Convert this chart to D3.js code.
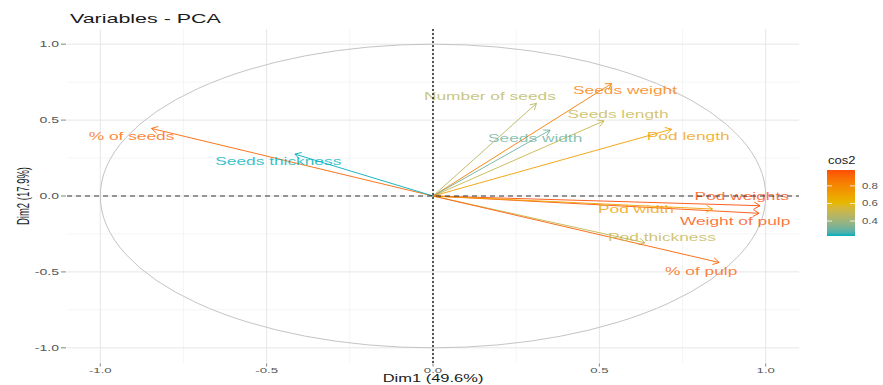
<!DOCTYPE html>
<html>
<head>
<meta charset="utf-8">
<script src="https://cdn.jsdelivr.net/npm/d3@7"></script>
<style>
  html, body { margin: 0; padding: 0; background: #fff; }
  svg { display: block; font-family: "Liberation Sans", Arial, sans-serif; }
</style>
</head>
<body>
<svg id="chart" width="883" height="385"></svg>
<script>
// ---- data ----
const variables = ["% of seeds", "Seeds thickness", "Number of seeds", "Seeds weight", "Seeds  length",
  "Seeds width", "Pod length", "Pod weights", "Weight of pulp", "Pod width", "Pod thickness", "% of pulp"];
const dim1 = [-0.846, -0.415, 0.311, 0.537, 0.514, 0.352, 0.717, 0.983, 0.980, 0.840, 0.637, 0.860];
const dim2 = [0.445, 0.276, 0.610, 0.741, 0.495, 0.434, 0.440, -0.064, -0.114, -0.086, -0.308, -0.438];
const cos2 = [0.91, 0.23, 0.47, 0.84, 0.51, 0.31, 0.71, 0.98, 0.97, 0.71, 0.50, 0.93];
const labelDim1 = [-0.906, -0.465, 0.171, 0.577, 0.556, 0.307, 0.767, 0.928, 0.908, 0.610, 0.688, 0.806];
const labelDim2 = [0.390, 0.226, 0.658, 0.693, 0.539, 0.382, 0.395, -0.005, -0.169, -0.086, -0.273, -0.493];
const axisTicks = [-1, -0.5, 0, 0.5, 1];
const axisTickLabels = ["-1.0", "-0.5", "0.0", "0.5", "1.0"];
const minorTicks = [-0.75, -0.25, 0.25, 0.75];
const legendTicks = [0.4, 0.6, 0.8];
const legendTickLabels = ["0.4", "0.6", "0.8"];
const gradientCols = ["#00AFBB", "#E7B800", "#FC4E07"];
const titleText = "Variables - PCA";
const xTitle = "Dim1 (49.6%)";
const yTitle = "Dim2 (17.9%)";

// ---- layout ----
const SX = 1.65; // horizontal stretch of text as in the reference
const svg = d3.select("#chart");
const x = d3.scaleLinear().domain([-1.1, 1.1]).range([67, 799]);
const y = d3.scaleLinear().domain([-1.1, 1.1]).range([363, 29]);

const cmin = d3.min(cos2), cmax = d3.max(cos2);
const color = d3.scaleLinear().domain([cmin, (cmin + cmax) / 2, cmax]).range(gradientCols).interpolate(d3.interpolateLab);

svg.append("rect").attr("width", 883).attr("height", 385).attr("fill", "#fff");

// grid
const grid = svg.append("g");
minorTicks.forEach(t => {
  grid.append("line").attr("x1", x(t)).attr("x2", x(t)).attr("y1", y(1.1)).attr("y2", y(-1.1))
    .attr("stroke", "#F3F3F3").attr("stroke-width", 0.8);
  grid.append("line").attr("y1", y(t)).attr("y2", y(t)).attr("x1", x(-1.1)).attr("x2", x(1.1))
    .attr("stroke", "#F3F3F3").attr("stroke-width", 0.8);
});
axisTicks.forEach(t => {
  grid.append("line").attr("x1", x(t)).attr("x2", x(t)).attr("y1", y(1.1)).attr("y2", y(-1.1))
    .attr("stroke", "#E6E6E6").attr("stroke-width", 1);
  grid.append("line").attr("y1", y(t)).attr("y2", y(t)).attr("x1", x(-1.1)).attr("x2", x(1.1))
    .attr("stroke", "#E6E6E6").attr("stroke-width", 1);
});

// correlation circle
svg.append("ellipse").attr("cx", x(0)).attr("cy", y(0))
  .attr("rx", x(1) - x(0)).attr("ry", y(0) - y(1))
  .attr("fill", "none").attr("stroke", "#C4C4C4").attr("stroke-width", 1);

// axis ticks and labels
const axG = svg.append("g");
axisTicks.forEach((t, i) => {
  axG.append("line").attr("x1", 61).attr("x2", 66).attr("y1", y(t)).attr("y2", y(t))
    .attr("stroke", "#666").attr("stroke-width", 0.8);
  axG.append("text").attr("transform", `translate(59,${y(t)}) scale(${SX},1)`)
    .attr("text-anchor", "end").attr("dy", "0.35em").attr("font-size", 8.5).attr("fill", "#555")
    .text(axisTickLabels[i]);
  axG.append("line").attr("x1", x(t)).attr("x2", x(t)).attr("y1", 363.5).attr("y2", 366.5)
    .attr("stroke", "#666").attr("stroke-width", 0.8);
  axG.append("text").attr("transform", `translate(${x(t)},372.5) scale(${SX},1)`)
    .attr("text-anchor", "middle").attr("font-size", 8).attr("fill", "#555")
    .text(axisTickLabels[i]);
});

// titles
svg.append("text").attr("transform", `translate(70,23) scale(${SX},1)`)
  .attr("font-size", 13).attr("fill", "#1a1a1a").text(titleText);
svg.append("text").attr("transform", `translate(${x(0)},382.3) scale(${SX},1)`)
  .attr("text-anchor", "middle").attr("font-size", 10).attr("fill", "#1a1a1a").text(xTitle);
svg.append("text").attr("transform", `translate(29,${y(0)}) scale(${SX},1) rotate(-90)`)
  .attr("text-anchor", "middle").attr("font-size", 9.5).attr("fill", "#1a1a1a").text(yTitle);

// arrows
const arrG = svg.append("g");
const HL = 7;
variables.forEach((v, i) => {
  const x0 = x(0), y0 = y(0), x1 = x(dim1[i]), y1 = y(dim2[i]);
  const c = color(cos2[i]);
  const a = Math.atan2(y1 - y0, x1 - x0);
  arrG.append("line").attr("x1", x0).attr("y1", y0).attr("x2", x1).attr("y2", y1)
    .attr("stroke", c).attr("stroke-width", 0.9);
  const p1 = [x1 - HL * Math.cos(a - Math.PI / 6), y1 - HL * Math.sin(a - Math.PI / 6)];
  const p2 = [x1 - HL * Math.cos(a + Math.PI / 6), y1 - HL * Math.sin(a + Math.PI / 6)];
  arrG.append("path").attr("d", `M${p1[0]},${p1[1]}L${x1},${y1}L${p2[0]},${p2[1]}`)
    .attr("fill", "none").attr("stroke", c).attr("stroke-width", 0.9);
});

// labels
const labG = svg.append("g");
variables.forEach((v, i) => {
  labG.append("text")
    .attr("transform", `translate(${x(labelDim1[i])},${y(labelDim2[i])}) scale(${SX},1)`)
    .attr("text-anchor", "middle").attr("dy", "0.35em").attr("font-size", 10.5)
    .attr("fill", color(cos2[i])).attr("fill-opacity", 0.8)
    .text(v);
});

// dashed reference lines
svg.append("line").attr("x1", x(-1.1)).attr("x2", x(1.1)).attr("y1", y(0)).attr("y2", y(0))
  .attr("stroke", "#222").attr("stroke-width", 0.9).attr("stroke-dasharray", "5,4");
svg.append("line").attr("x1", x(0)).attr("x2", x(0)).attr("y1", y(1.1)).attr("y2", y(-1.1))
  .attr("stroke", "#222").attr("stroke-width", 1.5).attr("stroke-dasharray", "2,2");

// legend
const lg = svg.append("g");
const lx = 827, lw = 28, ltop = 170, lbot = 236;
const ly = d3.scaleLinear().domain([cmin, cmax]).range([lbot, ltop]);
const defs = svg.append("defs");
const grad = defs.append("linearGradient").attr("id", "cgrad")
  .attr("x1", 0).attr("y1", 1).attr("x2", 0).attr("y2", 0);
d3.range(0, 1.0001, 0.05).forEach(f => {
  grad.append("stop").attr("offset", f).attr("stop-color", color(cmin + f * (cmax - cmin)));
});
lg.append("rect").attr("x", lx).attr("y", ltop).attr("width", lw).attr("height", lbot - ltop)
  .attr("fill", "url(#cgrad)");
legendTicks.forEach((t, i) => {
  lg.append("line").attr("x1", lx).attr("x2", lx + 5).attr("y1", ly(t)).attr("y2", ly(t))
    .attr("stroke", "#fff").attr("stroke-width", 0.8);
  lg.append("line").attr("x1", lx + lw - 5).attr("x2", lx + lw).attr("y1", ly(t)).attr("y2", ly(t))
    .attr("stroke", "#fff").attr("stroke-width", 0.8);
  lg.append("text").attr("transform", `translate(862,${ly(t)}) scale(1.35,1)`)
    .attr("dy", "0.35em").attr("font-size", 8.5).attr("fill", "#555").text(legendTickLabels[i]);
});
lg.append("text").attr("transform", `translate(828,164) scale(1.3,1)`)
  .attr("font-size", 10).attr("fill", "#1a1a1a").text("cos2");
</script>
</body>
</html>
